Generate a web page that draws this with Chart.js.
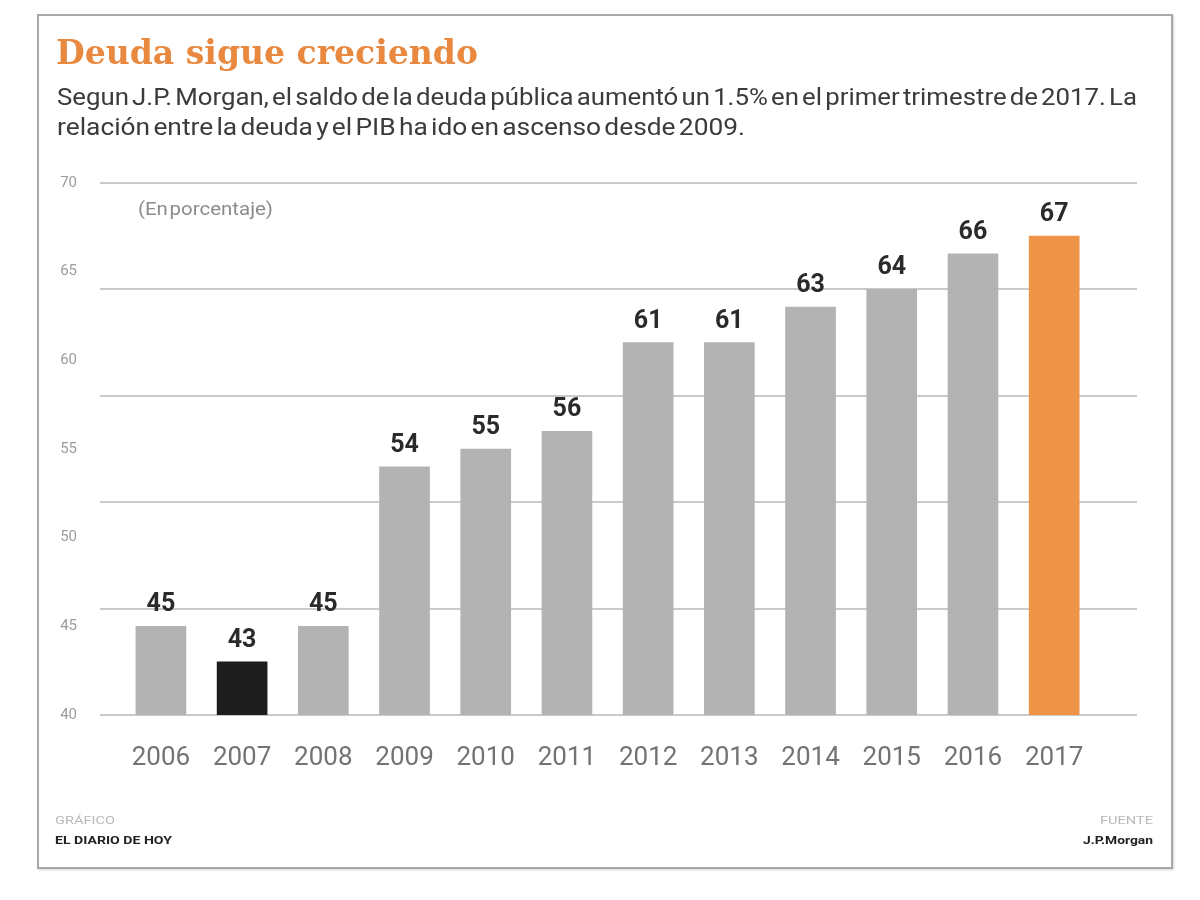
<!DOCTYPE html>
<html>
<head>
<meta charset="utf-8">
<script src="https://cdn.jsdelivr.net/npm/chart.js@4.4.1/dist/chart.umd.min.js"></script>
<style>
  html, body { margin: 0; padding: 0; background: #fff; }
  #wrap { position: relative; width: 1200px; height: 900px; overflow: hidden; background: #fff; }
  #frame { position: absolute; left: 37px; top: 14px; width: 1132px; height: 851px;
           border: 2px solid #a9a9a9; box-shadow: 1px 1px 2px rgba(0,0,0,0.18); }
  #c { position: absolute; left: 0; top: 0; }
  .t { position: absolute; white-space: nowrap; transform-origin: 0 0; }
  #title { left: 56px; top: 35px; font: bold 34px "DejaVu Serif"; line-height: 34px; color: #e8893f; }
  .sub { left: 57px; font: 24px Roboto; line-height: 24px; color: #3b3b3b; word-spacing: -3px; }
  #s1 { top: 85px; }
  #s2 { top: 115px; }
  #unit { left: 138px; top: 200px; font: 18px Roboto; line-height: 18px; color: #8c8c8c; word-spacing: -3px; }
  .f { font: 11px Roboto; line-height: 11px; }
  #f1 { left: 55px; top: 815px; color: #b8b8b8; }
  #f2 { left: 55px; top: 835px; color: #222; font-weight: bold; }
  #f3 { top: 815px; color: #b8b8b8; }
  #f4 { top: 835px; color: #222; font-weight: bold; }
</style>
</head>
<body>
<div id="wrap">
  <div id="frame"></div>
  <canvas id="c" width="1200" height="900"></canvas>
  <div class="t" id="title" data-w="422">Deuda sigue creciendo</div>
  <div class="t sub" id="s1" data-w="1080">Segun J.P. Morgan, el saldo de la deuda pública aumentó un 1.5% en el primer trimestre de 2017. La</div>
  <div class="t sub" id="s2" data-w="688">relación entre la deuda y el PIB ha ido en ascenso desde 2009.</div>
  <div class="t" id="unit" data-w="135">(En porcentaje)</div>
  <div class="t f" id="f1" data-w="60">GRÁFICO</div>
  <div class="t f" id="f2" data-w="117">EL DIARIO DE HOY</div>
  <div class="t f" id="f3" data-w="53" data-r="1153">FUENTE</div>
  <div class="t f" id="f4" data-w="70" data-r="1153">J.P.Morgan</div>
</div>
<script>
// ---- data ----
const years = ['2006','2007','2008','2009','2010','2011','2012','2013','2014','2015','2016','2017'];
const values = [45, 43, 45, 54, 55, 56, 61, 61, 63, 64, 66, 67];
const yTicks = [40, 45, 50, 55, 60, 65, 70];
const lowYear = '2007';
const highYear = '2017';

// ---- fit text widths to the reference ----
document.querySelectorAll('.t').forEach(el => {
  const target = parseFloat(el.dataset.w);
  const actual = el.getBoundingClientRect().width;
  if (target && actual) {
    el.style.transform = 'scaleX(' + (target / actual) + ')';
  }
  if (el.dataset.r) {
    el.style.left = (parseFloat(el.dataset.r) - target) + 'px';
  }
});

const valueLabels = {
  id: 'valueLabels',
  afterDatasetsDraw(chart) {
    const ctx = chart.ctx;
    const meta = chart.getDatasetMeta(0);
    ctx.save();
    ctx.font = 'bold 25px Roboto';
    ctx.fillStyle = '#2a2a2a';
    ctx.textAlign = 'center';
    ctx.textBaseline = 'alphabetic';
    meta.data.forEach((bar, i) => {
      ctx.fillText(String(values[i]), bar.x, bar.y - 15);
    });
    ctx.restore();
  }
};

new Chart(document.getElementById('c'), {
  type: 'bar',
  data: {
    datasets: [{
      data: years.map((y, i) => ({ x: i, y: values[i] })),
      backgroundColor: c => {
        const yr = years[c.dataIndex];
        if (yr === lowYear) return '#1d1d1d';
        if (yr === highYear) return '#ef9346';
        return '#b3b3b3';
      },
      barThickness: 50,
      xAxisID: 'x',
      yAxisID: 'y'
    }]
  },
  options: {
    responsive: false,
    animation: false,
    devicePixelRatio: 1,
    layout: { padding: { left: 0, right: 63, top: 183, bottom: 125 } },
    plugins: { legend: { display: false }, tooltip: { enabled: false } },
    scales: {
      x: {
        type: 'linear',
        offset: false,
        min: -0.75,
        max: 12.02,
        grid: { display: false, drawTicks: false, offset: false },
        border: { display: false },
        afterBuildTicks: s => { s.ticks = years.map((_, i) => ({ value: i })); },
        afterFit: s => { s.height = 60; },
        ticks: {
          callback: v => years[v],
          font: { family: 'Roboto', size: 26 },
          color: '#737373',
          padding: 28,
          maxRotation: 0,
          autoSkip: false
        }
      },
      y: {
        position: 'left',
        min: 40,
        max: 70,
        afterBuildTicks: s => { s.ticks = yTicks.map(v => ({ value: v })); },
        afterFit: s => { s.width = 100; },
        grid: { display: false, drawTicks: false },
        border: { display: false },
        ticks: { padding: 23, font: { family: 'Roboto', size: 15 }, color: '#9c9c9c' }
      },
      g: {
        type: 'linear',
        position: 'left',
        min: 0,
        max: 5,
        afterBuildTicks: s => { s.ticks = [0, 1, 2, 3, 4, 5].map(v => ({ value: v })); },
        afterFit: s => { s.width = 0; },
        grid: { color: '#cacaca', lineWidth: 2, drawTicks: false },
        border: { display: false },
        ticks: { display: false }
      }
    }
  },
  plugins: [valueLabels]
});
</script>
</body>
</html>
